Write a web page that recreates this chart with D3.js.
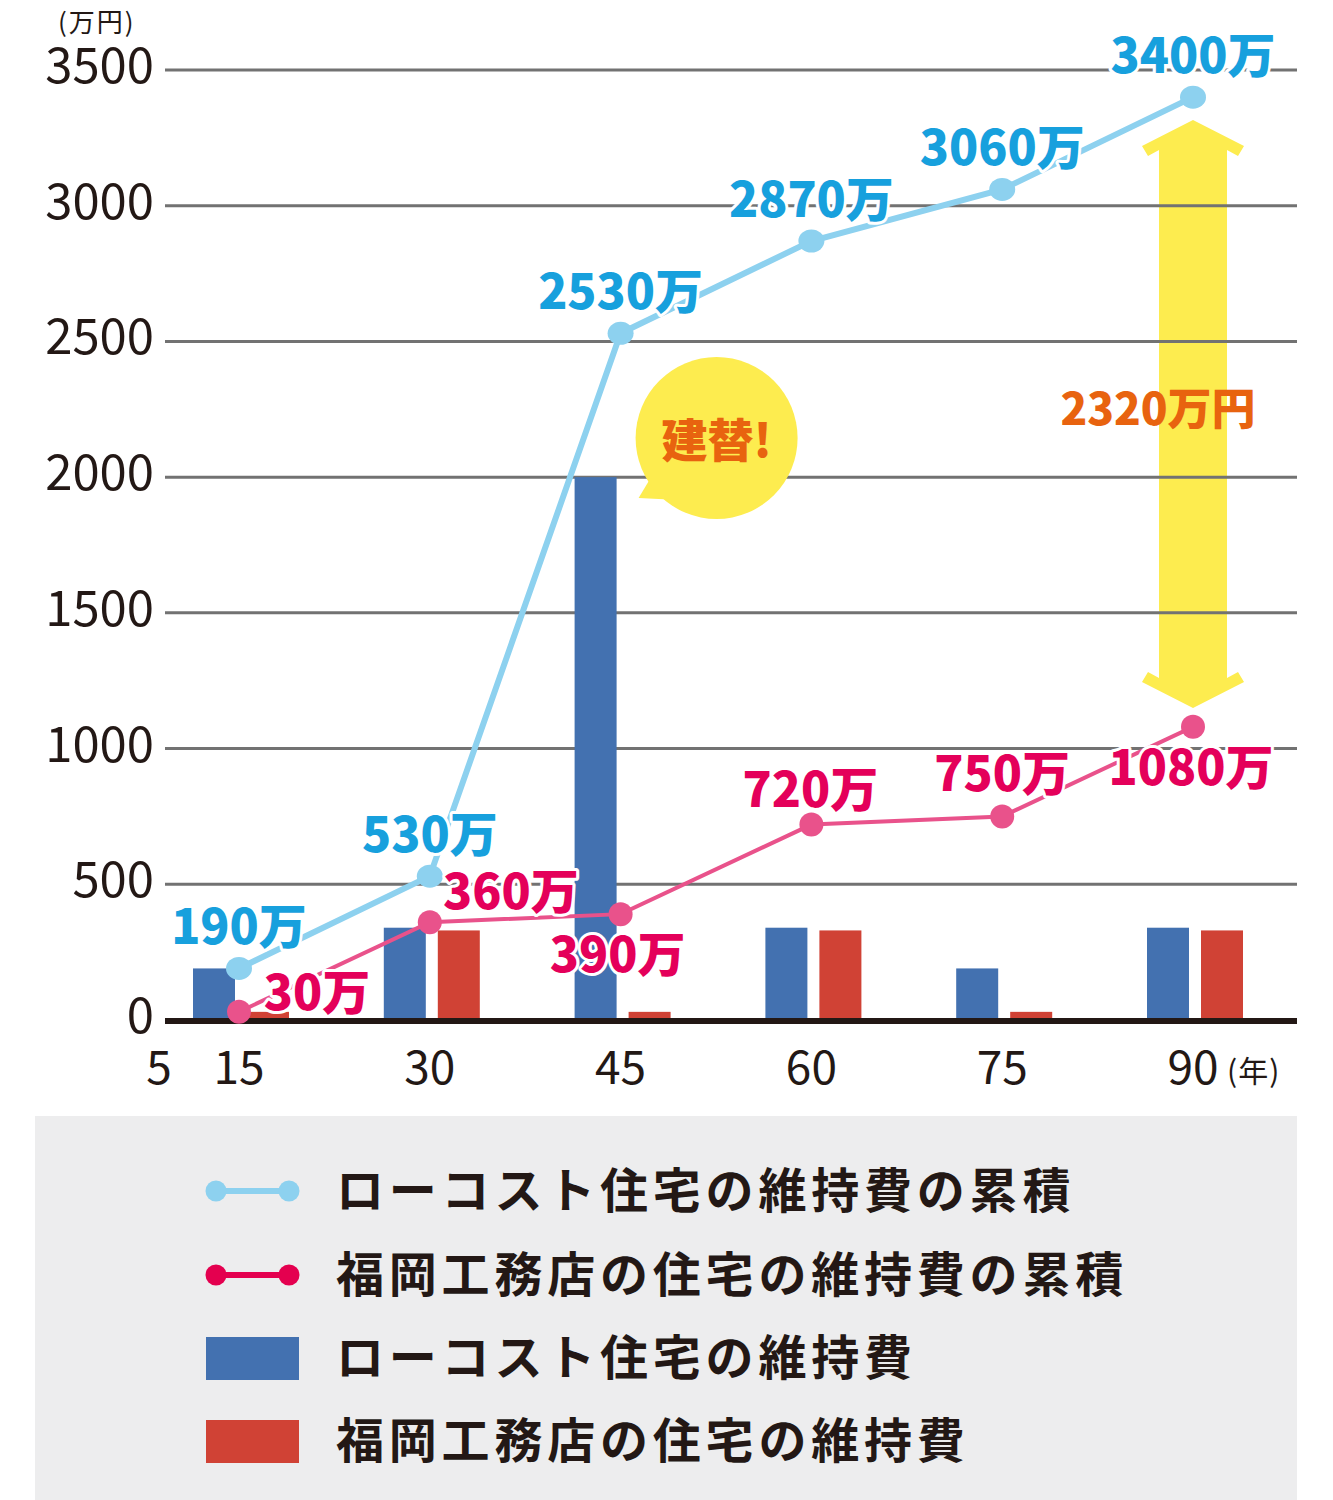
<!DOCTYPE html>
<html><head><meta charset="utf-8">
<script src="https://cdn.jsdelivr.net/npm/d3@7"></script>
<style>
html,body{margin:0;padding:0;background:#fff;}
svg{display:block;}
text{font-family:"Noto Sans CJK JP","Noto Sans",sans-serif;}
</style></head>
<body>
<svg id="chart" width="1333" height="1500"></svg>
<script>
// ---- data ----
const years = ["15","30","45","60","75","90"];
const lowCostCumulative = [190,530,2530,2870,3060,3400];
const fukuokaCumulative = [30,360,390,720,750,1080];
const lowCostCost = [190,340,2000,340,190,340];
const fukuokaCost = [30,330,30,330,30,330];
const yTicks = [0,500,1000,1500,2000,2500,3000,3500];
const lowCostLabels = ["190万","530万","2530万","2870万","3060万","3400万"];
const fukuokaLabels = ["30万","360万","390万","720万","750万","1080万"];
const diffLabel = "2320万円";
const rebuildLabel = "建替!";
const legendItems = ["ローコスト住宅の維持費の累積","福岡工務店の住宅の維持費の累積","ローコスト住宅の維持費","福岡工務店の住宅の維持費"];

// ---- layout ----
const fukuokaLabelOffsets = [[78,-2],[81,-13],[-3,58],[-1,-18],[0,-25],[-2,58]];
const C = {
  grid:"#727272", axis:"#231815", text:"#231815",
  blueLine:"#8dd1ef", pinkLine:"#e9528b", blueBar:"#4371b0", redBar:"#d04235",
  blueLabel:"#17a0dd", pinkLabel:"#e4005a", orange:"#e8630f", yellow:"#fdec4f",
  legendPink:"#e4004f", legendBg:"#ededee"
};

const svg = d3.select("#chart");
const x = d3.scalePoint().domain(years).range([239,1193]);
const y = d3.scaleLinear().domain([0,3500]).range([1020,70]);
const gx0 = 165, gx1 = 1297;

// arrow (behind gridlines)
const ax = x("90"), at = 120, ab = 708;
const arrowPts = [[ax,at],[ax+51,at+26],[ax+45,at+36],[ax+34,at+30],[ax+34,ab-30],[ax+45,ab-36],[ax+51,ab-26],[ax,ab],
  [ax-51,ab-26],[ax-45,ab-36],[ax-34,ab-30],[ax-34,at+30],[ax-45,at+36],[ax-51,at+26]];
svg.append("polygon").attr("points",arrowPts.map(p=>p.join(",")).join(" ")).attr("fill",C.yellow);

// gridlines
svg.append("g").selectAll("line").data(yTicks.filter(d=>d>0)).join("line")
  .attr("x1",gx0).attr("x2",gx1).attr("y1",d=>y(d)).attr("y2",d=>y(d))
  .attr("stroke",C.grid).attr("stroke-width",3);

// y tick labels
svg.append("g").selectAll("text").data(yTicks).join("text")
  .attr("x",154).attr("y",d=>y(d)+13).attr("text-anchor","end")
  .attr("font-size",49).attr("fill",C.text).text(d=>d);
svg.append("text").attr("x",58).attr("y",32).attr("font-size",26).attr("letter-spacing",2)
  .attr("fill",C.text).text("(万円)");

// bars
const bw = 42;
svg.append("g").selectAll("rect").data(years).join("rect")
  .attr("x",d=>x(d)-46).attr("width",bw)
  .attr("y",(d,i)=>y(lowCostCost[i])).attr("height",(d,i)=>y(0)-y(lowCostCost[i]))
  .attr("fill",C.blueBar);
svg.append("g").selectAll("rect").data(years).join("rect")
  .attr("x",d=>x(d)+8).attr("width",bw)
  .attr("y",(d,i)=>y(fukuokaCost[i])).attr("height",(d,i)=>y(0)-y(fukuokaCost[i]))
  .attr("fill",C.redBar);

// speech bubble
const bx = x("45")+96, by = 438;
svg.append("path").attr("d",`M${bx-60},${by+30} L${bx-78},${by+60} L${bx-38},${by+62} Z`).attr("fill",C.yellow);
svg.append("circle").attr("cx",bx).attr("cy",by).attr("r",81).attr("fill",C.yellow);
svg.append("text").attr("x",bx).attr("y",by+19).attr("text-anchor","middle")
  .attr("font-size",46).attr("font-weight",900).attr("fill",C.orange).text(rebuildLabel);

// x axis baseline
svg.append("line").attr("x1",gx0).attr("x2",gx1).attr("y1",y(0)+1).attr("y2",y(0)+1)
  .attr("stroke",C.axis).attr("stroke-width",6);

// lines
const line = d3.line().x((d,i)=>x(years[i])).y(d=>y(d));
svg.append("path").datum(fukuokaCumulative).attr("d",line).attr("fill","none")
  .attr("stroke",C.pinkLine).attr("stroke-width",4);
svg.append("g").selectAll("circle").data(fukuokaCumulative).join("circle")
  .attr("cx",(d,i)=>x(years[i])).attr("cy",d=>y(d)).attr("r",12).attr("fill",C.pinkLine);
svg.append("path").datum(lowCostCumulative).attr("d",line).attr("fill","none")
  .attr("stroke",C.blueLine).attr("stroke-width",6);
svg.append("g").selectAll("ellipse").data(lowCostCumulative).join("ellipse")
  .attr("cx",(d,i)=>x(years[i])).attr("cy",d=>y(d)).attr("rx",13).attr("ry",11.5).attr("fill",C.blueLine);

// value labels
function halo(sel){ return sel.attr("stroke","#fff").attr("stroke-width",6).attr("paint-order","stroke").attr("stroke-linejoin","round"); }
halo(svg.append("g").selectAll("text").data(lowCostCumulative).join("text")
  .attr("x",(d,i)=>x(years[i])).attr("y",d=>y(d)-24).attr("text-anchor","middle")
  .attr("font-size",48).attr("font-weight",900).attr("fill",C.blueLabel)
  .text((d,i)=>lowCostLabels[i]));
halo(svg.append("g").selectAll("text").data(fukuokaCumulative).join("text")
  .attr("x",(d,i)=>x(years[i])+fukuokaLabelOffsets[i][0]).attr("y",(d,i)=>y(d)+fukuokaLabelOffsets[i][1])
  .attr("text-anchor","middle")
  .attr("font-size",48).attr("font-weight",900).attr("fill",C.pinkLabel)
  .text((d,i)=>fukuokaLabels[i]));
svg.append("text").attr("x",x("90")-35).attr("y",425).attr("text-anchor","middle")
  .attr("font-size",44).attr("font-weight",900).attr("fill",C.orange).text(diffLabel);

// x tick labels
svg.append("g").selectAll("text").data(years).join("text")
  .attr("x",d=>x(d)).attr("y",1084).attr("text-anchor","middle")
  .attr("font-size",46).attr("fill",C.text).text(d=>d);
svg.append("text").attr("x",159).attr("y",1084).attr("text-anchor","middle")
  .attr("font-size",46).attr("fill",C.text).text("5");
svg.append("text").attr("x",1227).attr("y",1082).attr("font-size",30).attr("letter-spacing",1)
  .attr("fill",C.text).text("(年)");

// legend
svg.append("rect").attr("x",35).attr("y",1116).attr("width",1262).attr("height",384).attr("fill",C.legendBg);
const rows = [1191,1275,1358,1441];
const lg = svg.append("g");
[[C.blueLine,0],[C.legendPink,1]].forEach(([c,i])=>{
  lg.append("line").attr("x1",216).attr("x2",289).attr("y1",rows[i]).attr("y2",rows[i]).attr("stroke",c).attr("stroke-width",6);
  lg.append("circle").attr("cx",216).attr("cy",rows[i]).attr("r",10.5).attr("fill",c);
  lg.append("circle").attr("cx",289).attr("cy",rows[i]).attr("r",10.5).attr("fill",c);
});
[[C.blueBar,2],[C.redBar,3]].forEach(([c,i])=>{
  lg.append("rect").attr("x",206).attr("y",rows[i]-21).attr("width",93).attr("height",43).attr("fill",c);
});
lg.selectAll("text").data(legendItems).join("text")
  .attr("x",336).attr("y",(d,i)=>rows[i]+17).attr("font-size",48).attr("font-weight",700)
  .attr("letter-spacing",4.8).attr("fill",C.text).text(d=>d);
</script>
</body></html>
